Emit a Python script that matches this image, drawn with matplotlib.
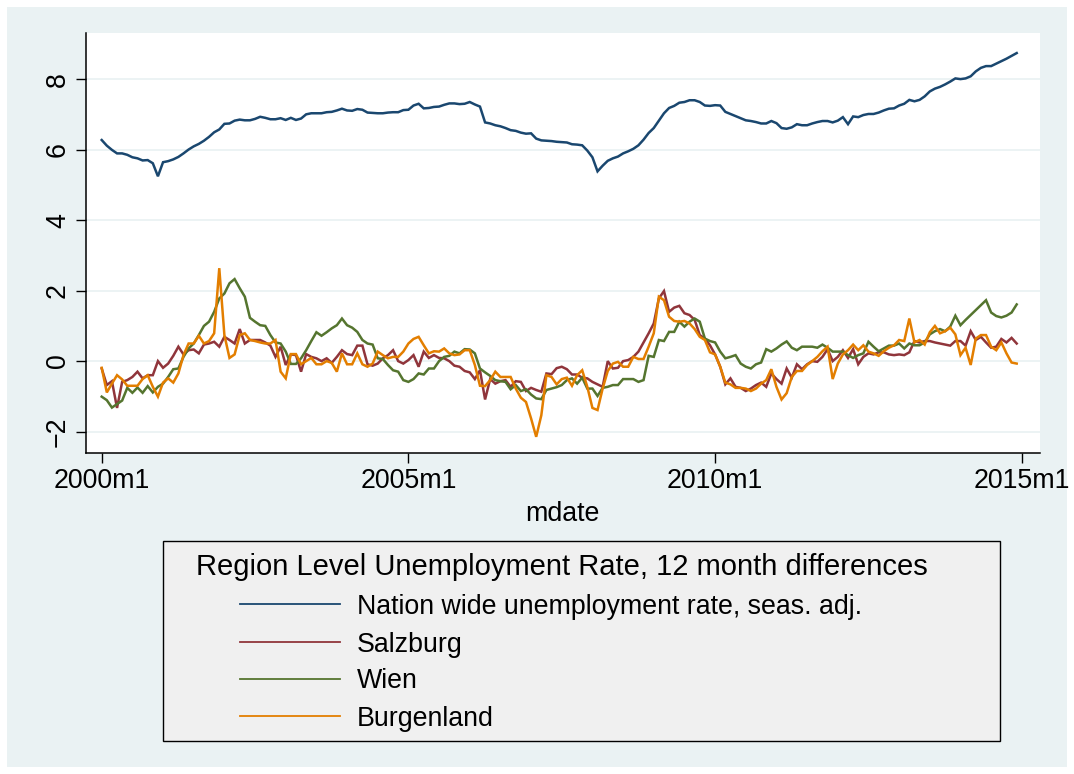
import numpy as np
import matplotlib
matplotlib.use("Agg")
import matplotlib.pyplot as plt
from matplotlib.patches import Rectangle
from matplotlib.lines import Line2D

# ---- data: monthly values, 2000m1 .. 2014m12 ----
start_year = 2000
n_months = 180
tick_years = [2000, 2005, 2010, 2015]
tick_labels = [f"{y}m1" for y in tick_years]
y_ticks = [-2, 0, 2, 4, 6, 8]

nation = [
    6.28, 6.12, 6.00, 5.90, 5.90, 5.86, 5.79, 5.76, 5.70, 5.71, 5.62, 5.25,
    5.65, 5.68, 5.73, 5.80, 5.90, 6.01, 6.10, 6.17, 6.26, 6.37, 6.50, 6.58,
    6.74, 6.75, 6.83, 6.86, 6.84, 6.84, 6.88, 6.94, 6.91, 6.87, 6.87, 6.90,
    6.85, 6.91, 6.85, 6.89, 7.01, 7.04, 7.04, 7.04, 7.07, 7.08, 7.12, 7.17,
    7.12, 7.11, 7.16, 7.14, 7.06, 7.05, 7.04, 7.04, 7.06, 7.07, 7.07, 7.13,
    7.14, 7.26, 7.31, 7.18, 7.19, 7.22, 7.23, 7.28, 7.32, 7.32, 7.30, 7.31,
    7.36, 7.29, 7.23, 6.78, 6.75, 6.70, 6.67, 6.62, 6.56, 6.54, 6.49, 6.46,
    6.47, 6.32, 6.27, 6.26, 6.25, 6.23, 6.22, 6.21, 6.16, 6.15, 6.13, 5.98,
    5.79, 5.39, 5.55, 5.69, 5.76, 5.81, 5.90, 5.96, 6.03, 6.13, 6.29, 6.48,
    6.62, 6.83, 7.04, 7.19, 7.25, 7.34, 7.36, 7.41, 7.41, 7.36, 7.26, 7.25,
    7.27, 7.26, 7.08, 7.02, 6.96, 6.90, 6.84, 6.82, 6.79, 6.75, 6.75, 6.82,
    6.76, 6.62, 6.60, 6.64, 6.73, 6.70, 6.70, 6.75, 6.79, 6.82, 6.82, 6.78,
    6.83, 6.93, 6.73, 6.95, 6.93, 6.99, 7.02, 7.02, 7.06, 7.12, 7.17, 7.18,
    7.26, 7.31, 7.42, 7.38, 7.42, 7.52, 7.66, 7.74, 7.79, 7.86, 7.94, 8.03,
    8.01, 8.03, 8.09, 8.23, 8.33, 8.38, 8.38, 8.45, 8.52, 8.59, 8.67, 8.75,
]

salzburg = [
    -0.21, -0.68, -0.57, -1.33, -0.59, -0.54, -0.45, -0.30, -0.49, -0.40, -0.40, 0.00,
    -0.19, -0.07, 0.15, 0.41, 0.19, 0.31, 0.33, 0.22, 0.47, 0.50, 0.55, 0.41,
    0.69, 0.60, 0.50, 0.91, 0.50, 0.60, 0.60, 0.60, 0.53, 0.44, 0.12, 0.41,
    -0.11, 0.19, 0.17, -0.30, 0.20, 0.12, 0.08, 0.00, 0.08, -0.05, 0.12, 0.31,
    0.20, 0.17, 0.44, 0.44, -0.09, -0.13, -0.07, 0.08, 0.17, 0.31, 0.00, -0.07,
    0.03, 0.17, -0.16, 0.27, 0.09, 0.17, 0.09, 0.08, 0.00, -0.13, -0.16, -0.28,
    -0.32, -0.51, -0.26, -1.09, -0.51, -0.64, -0.57, -0.54, -0.73, -0.57, -0.59, -0.85,
    -0.76, -0.82, -0.87, -0.35, -0.37, -0.20, -0.16, -0.23, -0.38, -0.38, -0.47, -0.49,
    -0.59, -0.66, -0.73, 0.00, -0.21, -0.19, 0.00, 0.03, 0.12, 0.27, 0.53, 0.79,
    1.07, 1.78, 1.99, 1.40, 1.52, 1.57, 1.36, 1.31, 1.17, 0.74, 0.64, 0.45,
    0.19, -0.16, -0.66, -0.49, -0.73, -0.76, -0.85, -0.78, -0.68, -0.61, -0.73, -0.35,
    -0.51, -0.64, -0.21, -0.47, -0.09, -0.23, -0.09, 0.00, -0.02, 0.12, 0.34, 0.00,
    0.12, 0.31, 0.09, 0.34, -0.09, 0.12, 0.22, 0.19, 0.25, 0.25, 0.19, 0.17,
    0.19, 0.17, 0.25, 0.57, 0.53, 0.57, 0.57, 0.53, 0.50, 0.47, 0.44, 0.57,
    0.57, 0.44, 0.85, 0.60, 0.69, 0.53, 0.38, 0.41, 0.63, 0.53, 0.66, 0.50,
]

wien = [
    -1.01, -1.11, -1.32, -1.22, -1.12, -0.76, -0.90, -0.75, -0.90, -0.71, -0.89, -0.73,
    -0.64, -0.45, -0.23, -0.21, 0.12, 0.36, 0.50, 0.74, 1.00, 1.12, 1.40, 1.78,
    1.92, 2.21, 2.33, 2.07, 1.83, 1.23, 1.12, 1.02, 1.00, 0.74, 0.53, 0.50,
    0.27, -0.08, -0.08, 0.08, 0.31, 0.57, 0.82, 0.72, 0.82, 0.93, 1.02, 1.21,
    1.02, 0.95, 0.83, 0.60, 0.50, 0.47, 0.08, 0.06, -0.11, -0.26, -0.30, -0.54,
    -0.59, -0.51, -0.35, -0.38, -0.21, -0.21, 0.00, 0.12, 0.15, 0.27, 0.22, 0.34,
    0.33, 0.22, -0.21, -0.32, -0.42, -0.54, -0.57, -0.59, -0.80, -0.68, -0.85, -0.80,
    -0.95, -1.06, -1.08, -0.82, -0.78, -0.74, -0.68, -0.54, -0.49, -0.64, -0.47, -0.78,
    -0.78, -0.99, -0.76, -0.73, -0.68, -0.68, -0.51, -0.51, -0.51, -0.59, -0.54, 0.15,
    0.12, 0.60, 0.57, 0.83, 0.83, 1.12, 0.98, 1.12, 1.21, 1.12, 0.64, 0.57,
    0.53, 0.27, 0.08, 0.12, 0.17, -0.07, -0.16, -0.21, -0.09, -0.04, 0.34, 0.27,
    0.36, 0.47, 0.56, 0.38, 0.31, 0.41, 0.41, 0.41, 0.38, 0.47, 0.38, 0.27,
    0.27, 0.27, 0.17, 0.09, 0.17, 0.22, 0.55, 0.41, 0.28, 0.36, 0.44, 0.44,
    0.50, 0.36, 0.50, 0.45, 0.45, 0.53, 0.76, 0.85, 0.91, 0.85, 0.98, 1.29,
    1.02, 1.17, 1.31, 1.45, 1.59, 1.73, 1.38, 1.28, 1.24, 1.29, 1.38, 1.61,
]

burgenland = [
    -0.19, -0.89, -0.64, -0.40, -0.52, -0.70, -0.70, -0.70, -0.51, -0.40, -0.73, -1.01,
    -0.61, -0.49, -0.61, -0.35, 0.17, 0.50, 0.50, 0.72, 0.50, 0.57, 0.79, 2.64,
    0.74, 0.09, 0.19, 0.74, 0.79, 0.60, 0.57, 0.53, 0.50, 0.50, 0.60, -0.30,
    -0.49, 0.20, 0.20, -0.09, 0.00, 0.09, -0.09, -0.09, 0.00, -0.05, -0.30, 0.22,
    -0.09, -0.09, 0.22, -0.09, -0.16, -0.07, 0.27, 0.17, 0.08, 0.12, 0.12, 0.27,
    0.50, 0.63, 0.69, 0.45, 0.22, 0.28, 0.27, 0.36, 0.22, 0.17, 0.19, 0.31,
    0.31, -0.11, -0.70, -0.71, -0.54, -0.30, -0.45, -0.45, -0.45, -0.78, -1.04, -1.16,
    -1.63, -2.15, -1.54, -0.40, -0.45, -0.66, -0.51, -0.47, -0.70, -0.40, -0.26, -0.73,
    -1.33, -1.39, -0.78, -0.28, -0.07, -0.02, -0.16, -0.16, 0.12, 0.06, 0.06, 0.41,
    0.79, 1.83, 1.73, 1.26, 1.14, 1.12, 1.14, 1.07, 0.91, 0.69, 0.60, 0.25,
    0.19, -0.16, -0.61, -0.66, -0.76, -0.76, -0.78, -0.85, -0.78, -0.64, -0.54, -0.23,
    -0.73, -1.09, -0.91, -0.45, -0.28, -0.28, -0.11, 0.00, 0.12, 0.28, 0.41, -0.51,
    -0.07, 0.19, 0.31, 0.47, 0.31, 0.45, 0.27, 0.22, 0.15, 0.28, 0.38, 0.45,
    0.60, 0.57, 1.21, 0.53, 0.60, 0.47, 0.82, 1.00, 0.79, 0.85, 0.95, 0.76,
    0.17, 0.38, -0.11, 0.64, 0.74, 0.74, 0.41, 0.31, 0.53, 0.22, -0.04, -0.07,
]

series_names = [
    "Nation wide unemployment rate, seas. adj.",
    "Salzburg",
    "Wien",
    "Burgenland",
]
series_values = [nation, salzburg, wien, burgenland]
series_colors = ["#1A476F", "#90353B", "#55752F", "#E37E00"]
legend_title = "Region Level Unemployment Rate, 12 month differences"

# ---- figure ----
W, H = 1074, 774
DPI = 100
plt.rcParams["font.family"] = ["Liberation Sans", "DejaVu Sans"]
FS = 19.3        # axis and legend-entry text
FS_TITLE = 21    # legend heading

fig = plt.figure(figsize=(W / DPI, H / DPI), dpi=DPI, facecolor="white")


def fx(px):
    return px / W


def fy(py):
    return 1 - py / H


# graph region background
fig.patches.append(Rectangle((fx(7), fy(767)), fx(1067) - fx(7), fy(7) - fy(767),
                             transform=fig.transFigure, facecolor="#EAF2F3",
                             edgecolor="none", zorder=-10))

ax = fig.add_axes([fx(85.5), fy(453), fx(1040) - fx(85.5), fy(33) - fy(453)])
ax.set_zorder(1)
ax.set_facecolor("white")

months = np.arange(n_months)
for vals, name, col in zip(series_values, series_names, series_colors):
    ax.plot(months, vals, color=col, lw=1.8, label=name, solid_joinstyle="miter", zorder=3)

ax.set_xlim(-3.17, 183.56)
ax.set_ylim(-2.61, 9.32)

ax.set_xticks([(y - start_year) * 12 for y in tick_years])
ax.set_xticklabels(tick_labels)
ax.set_yticks(y_ticks)
ax.set_yticklabels([f"{v}".replace("-", "\u2212") for v in y_ticks], rotation=90,
                   va="center")

ax.tick_params(axis="both", direction="out", length=7.5, width=1.0, labelsize=FS,
               color="black", labelcolor="black")
ax.tick_params(axis="x", pad=3.5)
ax.tick_params(axis="y", pad=3)

ax.grid(axis="y", color="#EAF2F3", lw=1.3, zorder=1)
ax.set_axisbelow(True)

for side in ["top", "right"]:
    ax.spines[side].set_visible(False)
for side in ["left", "bottom"]:
    ax.spines[side].set_color("black")
    ax.spines[side].set_linewidth(1.1)

ax.set_xlabel("mdate", fontsize=FS, labelpad=5)

# ---- legend box ----
bx0, by0, bx1, by1 = 163, 541, 1000, 741
fig.patches.append(Rectangle((fx(bx0), fy(by1)), fx(bx1) - fx(bx0), fy(by0) - fy(by1),
                             transform=fig.transFigure, facecolor="#F0F0F0",
                             edgecolor="black", lw=1.0, zorder=2))
fig.text(fx(562), fy(575), legend_title, ha="center", va="baseline", fontsize=FS_TITLE,
         zorder=3)
entry_y = [604, 642, 679, 716]
for name, col, ly in zip(series_names, series_colors, entry_y):
    fig.lines.append(Line2D([fx(240), fx(340)], [fy(ly), fy(ly)], color=col, lw=1.3,
                            transform=fig.transFigure, zorder=3))
    fig.text(fx(357), fy(ly + 9.5), name, ha="left", va="baseline", fontsize=FS,
             zorder=3)

fig.savefig("out.png", dpi=DPI, facecolor="white")
